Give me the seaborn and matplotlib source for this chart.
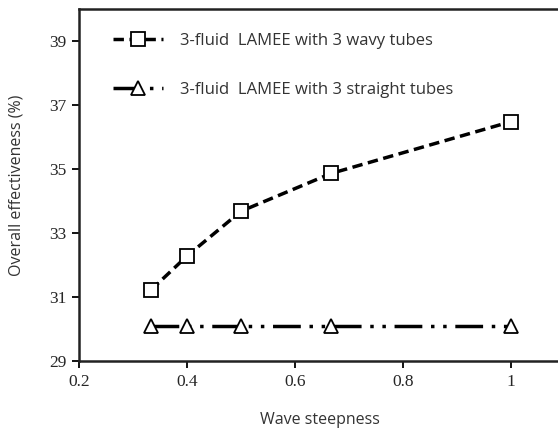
import pandas as pd
import seaborn as sns
import matplotlib.pyplot as plt

# values
steepness = [1/3, 0.4, 0.5, 2/3, 1.0]
wavy = [31.22, 32.28, 33.68, 34.86, 36.48]
straight = [30.08, 30.08, 30.08, 30.08, 30.08]
labels = ['3-fluid  LAMEE with 3 wavy tubes', '3-fluid  LAMEE with 3 straight tubes']

df = pd.DataFrame({
    'Wave steepness': steepness * 2,
    'Effectiveness': wavy + straight,
    'Case': [labels[0]] * 5 + [labels[1]] * 5,
})

sns.set_style('white')
fig = plt.figure(figsize=(5.58, 4.30), dpi=100)
# axes run past the right edge of the picture, like the reference crop
ax = fig.add_axes([79/558, 69/430, 540/558, 352/430])

sns.lineplot(data=df, x='Wave steepness', y='Effectiveness', hue='Case', style='Case',
             palette=['black', 'black'], markers=['s', '^'],
             dashes=[(3, 1.6), (8, 2.5, 1, 2.5, 1, 2.5)],
             linewidth=2.5, markersize=9.5, markerfacecolor='white',
             markeredgecolor='black', markeredgewidth=1.3, ax=ax)

ax.set_xlim(0.2, 1.2)
ax.set_ylim(29, 40)
ax.set_xticks([0.2, 0.4, 0.6, 0.8, 1.0])
ax.set_xticklabels(['0.2', '0.4', '0.6', '0.8', '1'])
ax.set_yticks([29, 31, 33, 35, 37, 39])
for lab in ax.get_xticklabels() + ax.get_yticklabels():
    lab.set_family('Liberation Serif')
    lab.set_fontsize(12.5)
ax.tick_params(axis='both', direction='out', length=5, width=1.3, color='black',
               bottom=True, left=True, pad=4)
ax.spines['right'].set_visible(False)
for s in ['left', 'bottom', 'top']:
    ax.spines[s].set_linewidth(1.8)
    ax.spines[s].set_color('#222222')

ax.set_xlabel('Wave steepness', family='Open Sans', fontsize=11.5, color='#333333')
ax.set_ylabel('Overall effectiveness (%)', family='Open Sans', fontsize=11.5, color='#333333')
ax.xaxis.set_label_coords((320 - 79) / 540, -(412 - 361) / 352)
ax.yaxis.set_label_coords(-(79 - 25) / 540, 0.5)

leg = ax.legend(loc='upper left', bbox_to_anchor=(0.036, 0.975), frameon=False,
                handlelength=3.0, labelspacing=2.0, handletextpad=1.0,
                prop={'family': 'Open Sans', 'size': 12})
for t in leg.get_texts():
    t.set_color('#333333')

fig.savefig('out.png', dpi=100)
